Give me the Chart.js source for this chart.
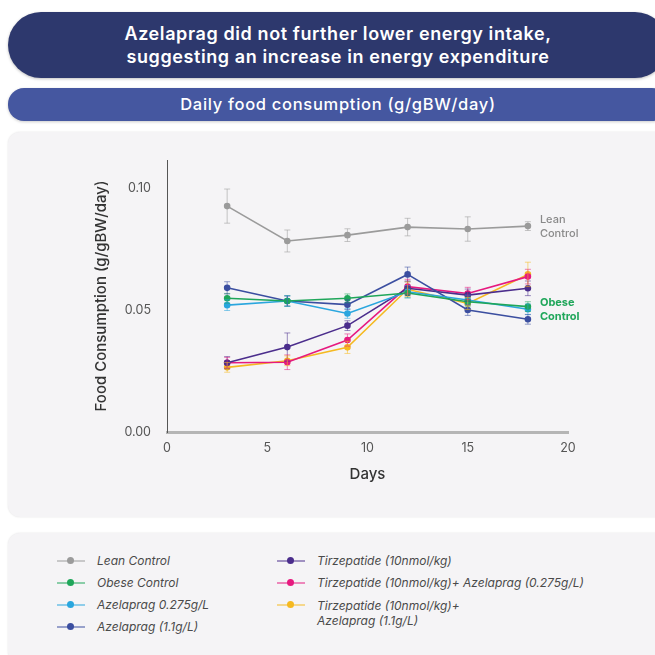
<!DOCTYPE html>
<html>
<head>
<meta charset="utf-8">
<script src="https://cdn.jsdelivr.net/npm/chart.js@4.4.1/dist/chart.umd.min.js"></script>
<style>
  body { margin: 0; width: 655px; height: 655px; background: #fff; font-family: Inter, "Open Sans", sans-serif; position: relative; overflow: hidden; }
  .banner { position: absolute; left: 8px; width: 660px; color: #fff; text-align: center; font-weight: 600; }
  #title { top: 12px; height: 66px; border-radius: 33px; background: #2d386d; font-size: 18px; letter-spacing: 0.6px; line-height: 23px; padding-top: 10px; box-sizing: border-box; box-shadow: 0 1px 3px rgba(0,0,0,0.25); }
  #subtitle { top: 88px; height: 33px; border-radius: 16px; background: #4557a0; font-size: 16.5px; font-weight: 500; letter-spacing: 0.7px; line-height: 33px; box-shadow: 0 1px 3px rgba(0,0,0,0.2); }
  .panel { position: absolute; left: 8px; width: 660px; background: #f5f4f6; border-radius: 12px; box-shadow: 0 0 2px rgba(0,0,0,0.12); }
  #chartPanel { top: 132px; height: 385px; }
  #legendPanel { top: 533px; height: 130px; }
  #wrap { position: absolute; left: 0; top: 132px; width: 655px; height: 385px; }
  #legend { position: absolute; left: 57px; top: 550px; font-size: 12px; font-style: italic; color: #4a4a4a; }
  .col { position: absolute; top: 0; }
  .item { position: relative; height: 22px; line-height: 22px; white-space: nowrap; padding-left: 40px; }
  .item .ln { position: absolute; left: 0; top: 10px; width: 28px; height: 2px; opacity: 0.5; }
  .item .dt { position: absolute; left: 10px; top: 7px; width: 7px; height: 7px; border-radius: 50%; }
</style>
</head>
<body>
<div id="title" class="banner">Azelaprag did not further lower energy intake,<br>suggesting an increase in energy expenditure</div>
<div id="subtitle" class="banner">Daily food consumption (g/gBW/day)</div>
<div id="chartPanel" class="panel"></div>
<div id="legendPanel" class="panel"></div>
<div id="wrap"><canvas id="myChart"></canvas></div>
<div id="legend"></div>
<script>
const days = [3, 6, 9, 12, 15, 18];
const xTicks = [0, 5, 10, 15, 20];
const yTicks = [0, 0.05, 0.10];

const seriesNames = [
    'Lean Control',
    'Obese Control',
    'Azelaprag 0.275g/L',
    'Azelaprag (1.1g/L)',
    'Tirzepatide (10nmol/kg)',
    'Tirzepatide (10nmol/kg)+ Azelaprag (0.275g/L)',
    'Tirzepatide (10nmol/kg)+\nAzelaprag (1.1g/L)',
];
const seriesColors = ['#9b9b9b', '#1fa65a', '#2aa6de', '#3b4ea0', '#4b2d8c', '#e6197f', '#f5b921'];

const leanControl = [0.0926, 0.0783, 0.0807, 0.0840, 0.0832, 0.0844];
const obeseControl = [0.0548, 0.0537, 0.0548, 0.0570, 0.0534, 0.0514];
const azelaprag0275 = [0.0520, 0.0537, 0.0486, 0.0575, 0.0541, 0.0503];
const azelaprag11 = [0.0591, 0.0537, 0.0522, 0.0646, 0.0500, 0.0462];
const tirzepatide = [0.0284, 0.0348, 0.0436, 0.0589, 0.0561, 0.0589];
const tirzAze0275 = [0.0284, 0.0286, 0.0377, 0.0596, 0.0568, 0.0637];
const tirzAze11 = [0.0265, 0.0292, 0.0347, 0.0585, 0.0527, 0.0646];

const leanErr = [0.0070, 0.0045, 0.0026, 0.0036, 0.0050, 0.0018];
const obeseErr = [0.0020, 0.0022, 0.0018, 0.0020, 0.0018, 0.0020];
const aze0275Err = [0.0022, 0.0022, 0.0020, 0.0025, 0.0020, 0.0022];
const aze11Err = [0.0025, 0.0020, 0.0020, 0.0030, 0.0022, 0.0020];
const tirzErr = [0.0025, 0.0058, 0.0020, 0.0030, 0.0025, 0.0030];
const tirzAze0275Err = [0.0022, 0.0030, 0.0025, 0.0030, 0.0025, 0.0030];
const tirzAze11Err = [0.0020, 0.0020, 0.0025, 0.0030, 0.0025, 0.0050];

const seriesValues = [leanControl, obeseControl, azelaprag0275, azelaprag11, tirzepatide, tirzAze0275, tirzAze11];
const seriesErrors = [leanErr, obeseErr, aze0275Err, aze11Err, tirzErr, tirzAze0275Err, tirzAze11Err];

// end labels next to the last point
const endLabels = [
    { series: 0, lines: ['Lean', 'Control'], color: '#8a8a8a', weight: '500', dy: 1 },
    { series: 1, lines: ['Obese', 'Control'], color: '#1fa65a', weight: '700', dy: 3 },
];

const cts = document.querySelector('#myChart').getContext('2d');

const errorBars = {
    id: 'errorBars',
    afterDatasetsDraw(chart) {
        const ctx = chart.ctx;
        const y = chart.scales.y;
        chart.data.datasets.forEach((ds, i) => {
            const meta = chart.getDatasetMeta(i);
            ctx.save();
            ctx.strokeStyle = ds.borderColor;
            ctx.globalAlpha = 0.55;
            ctx.lineWidth = 1;
            meta.data.forEach((pt, j) => {
                const v = ds.data[j].y;
                const e = seriesErrors[i][j];
                const top = y.getPixelForValue(v + e);
                const bot = y.getPixelForValue(v - e);
                ctx.beginPath();
                ctx.moveTo(pt.x, top); ctx.lineTo(pt.x, bot);
                ctx.moveTo(pt.x - 3, top); ctx.lineTo(pt.x + 3, top);
                ctx.moveTo(pt.x - 3, bot); ctx.lineTo(pt.x + 3, bot);
                ctx.stroke();
            });
            ctx.restore();
        });
    },
    afterDraw(chart) {
        const ctx = chart.ctx;
        const x = chart.scales.x;
        const y = chart.scales.y;
        ctx.save();
        endLabels.forEach(l => {
            const vals = seriesValues[l.series];
            const px = x.getPixelForValue(days[days.length - 1]) + 12;
            const py = y.getPixelForValue(vals[vals.length - 1]) + l.dy;
            ctx.fillStyle = l.color;
            ctx.font = l.weight + ' 11px Inter, "Open Sans", sans-serif';
            ctx.textBaseline = 'middle';
            ctx.fillText(l.lines[0], px, py - 7);
            ctx.fillText(l.lines[1], px, py + 7);
        });
        ctx.restore();
    }
};

const data = {
    datasets: seriesNames.map((name, i) => ({
        label: name,
        data: days.map((d, j) => ({ x: d, y: seriesValues[i][j] })),
        borderColor: seriesColors[i],
        backgroundColor: seriesColors[i],
        borderWidth: 1.6,
        pointRadius: 2.5,
        pointHoverRadius: 2.5,
        tension: 0,
    })),
};

const config = {
    type: 'line',
    data: data,
    plugins: [errorBars],
    options: {
        responsive: true,
        maintainAspectRatio: false,
        animation: false,
        layout: { padding: { left: 88, top: 28, right: 87, bottom: 30 } },
        plugins: { legend: { display: false }, tooltip: { enabled: false } },
        scales: {
            x: {
                type: 'linear',
                min: 0,
                max: 20,
                afterBuildTicks: axis => { axis.ticks = xTicks.map(v => ({ value: v })); },
                afterFit: scale => { scale.height = 55; },
                grid: { display: false, drawTicks: false },
                border: { color: '#b5b5b5', width: 3 },
                ticks: { color: '#555', padding: 9, font: { size: 12.5, family: 'Inter' } },
                title: { display: true, text: 'Days', color: '#333', font: { size: 15, weight: '500', family: 'Inter' }, padding: { top: 5 } },
            },
            y: {
                min: 0,
                max: 0.1115,
                afterBuildTicks: axis => { axis.ticks = yTicks.map(v => ({ value: v })); },
                afterFit: scale => { scale.width = 79; },
                grid: { display: false, drawTicks: false },
                border: { color: '#555', width: 1 },
                ticks: {
                    color: '#555', padding: 16, font: { size: 12.5, family: 'Inter' },
                    callback: function (value) { return value.toFixed(2); }
                },
                title: { display: true, text: 'Food Consumption (g/gBW/day)', color: '#333', font: { size: 15, weight: '500', family: 'Inter' }, padding: { bottom: 0 } },
            },
        },
    },
};

const myChart = new Chart(cts, config);

// legend in its own panel, two columns
const legendEl = document.getElementById('legend');
const columns = [[0, 1, 2, 3], [4, 5, 6]];
columns.forEach((idx, c) => {
    const col = document.createElement('div');
    col.className = 'col';
    col.style.left = (c * 220) + 'px';
    idx.forEach(i => {
        const it = document.createElement('div');
        it.className = 'item';
        const parts = seriesNames[i].split('\n');
        if (parts.length > 1) { it.style.lineHeight = '15px'; it.style.paddingTop = '4px'; it.style.height = '36px'; }
        it.innerHTML = '<span class="ln" style="background:' + seriesColors[i] + '"></span>' +
            '<span class="dt" style="background:' + seriesColors[i] + '"></span>' +
            parts.join('<br>');
        col.appendChild(it);
    });
    legendEl.appendChild(col);
});
</script>
</body>
</html>
